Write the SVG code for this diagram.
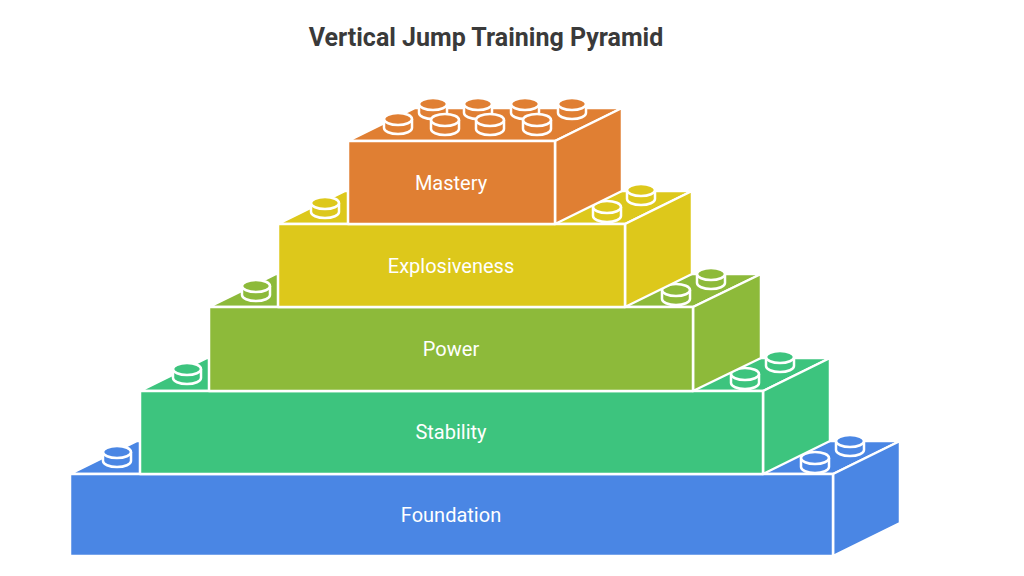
<svg xmlns="http://www.w3.org/2000/svg" xmlns:xlink="http://www.w3.org/1999/xlink" width="1024" height="576" viewBox="0 0 1024 576">
<style>
.f{stroke:#fff;stroke-width:2.5;stroke-linejoin:round}
.lbl{font-family:Roboto,"Liberation Sans",sans-serif;font-size:20px;fill:#fff;text-anchor:middle}
.title{font-family:Roboto,"Liberation Sans",sans-serif;font-size:25px;font-weight:bold;fill:#3a3a3a;text-anchor:middle}
.b1{fill:#4A86E4}.b2{fill:#3DC47E}.b3{fill:#8DBA3A}.b4{fill:#DDC81B}.b5{fill:#E07F33}
</style>
<defs>
<g id="stud"><path d="M-14,0 v9 a14 6 0 0 0 28 0 v-9" class="f"/><ellipse cx="0" cy="0" rx="14" ry="6" class="f"/></g>
</defs>
<rect width="1024" height="576" fill="#fff"/>
<text class="title" x="486" y="46">Vertical Jump Training Pyramid</text>
<g id="foundation" class="b1">
<polygon class="f" points="70,474 137,441 900,441 833,474"/>
<polygon class="f" points="833,474 900,441 900,523 833,556"/>
<rect class="f" x="70" y="474" width="763" height="82"/>
<use href="#stud" x="117" y="452"/><use href="#stud" x="815" y="458"/><use href="#stud" x="850" y="441"/>
<text class="lbl" x="451" y="522">Foundation</text>
</g>
<g id="stability" class="b2">
<polygon class="f" points="140,391 207,358 830,358 763,391"/>
<polygon class="f" points="763,391 830,358 830,441 763,474"/>
<rect class="f" x="140" y="391" width="623" height="83"/>
<use href="#stud" x="187" y="369"/><use href="#stud" x="745" y="374"/><use href="#stud" x="780" y="357"/>
<text class="lbl" x="451" y="439">Stability</text>
</g>
<g id="power" class="b3">
<polygon class="f" points="209,307 276,274 761,274 693,307"/>
<polygon class="f" points="693,307 761,274 761,358 693,391"/>
<rect class="f" x="209" y="307" width="484" height="84"/>
<use href="#stud" x="256" y="286"/><use href="#stud" x="676" y="290"/><use href="#stud" x="711" y="274"/>
<text class="lbl" x="451" y="356">Power</text>
</g>
<g id="explosiveness" class="b4">
<polygon class="f" points="278,224 345,191 692,191 625,224"/>
<polygon class="f" points="625,224 692,191 692,274 625,307"/>
<rect class="f" x="278" y="224" width="347" height="83"/>
<use href="#stud" x="325" y="203"/><use href="#stud" x="607" y="207"/><use href="#stud" x="641" y="190"/>
<text class="lbl" x="451" y="273">Explosiveness</text>
</g>
<g id="mastery" class="b5">
<polygon class="f" points="348,141 415,108 622,108 555,141"/>
<polygon class="f" points="555,141 622,108 622,191 555,224"/>
<rect class="f" x="348" y="141" width="207" height="83"/>
<use href="#stud" x="433" y="104"/><use href="#stud" x="478" y="104"/><use href="#stud" x="525" y="104"/><use href="#stud" x="572" y="104"/>
<use href="#stud" x="398" y="119"/><use href="#stud" x="445" y="120"/><use href="#stud" x="490" y="120"/><use href="#stud" x="537" y="120"/>
<text class="lbl" x="451" y="190">Mastery</text>
</g>
<g id="connectors"/>
</svg>
